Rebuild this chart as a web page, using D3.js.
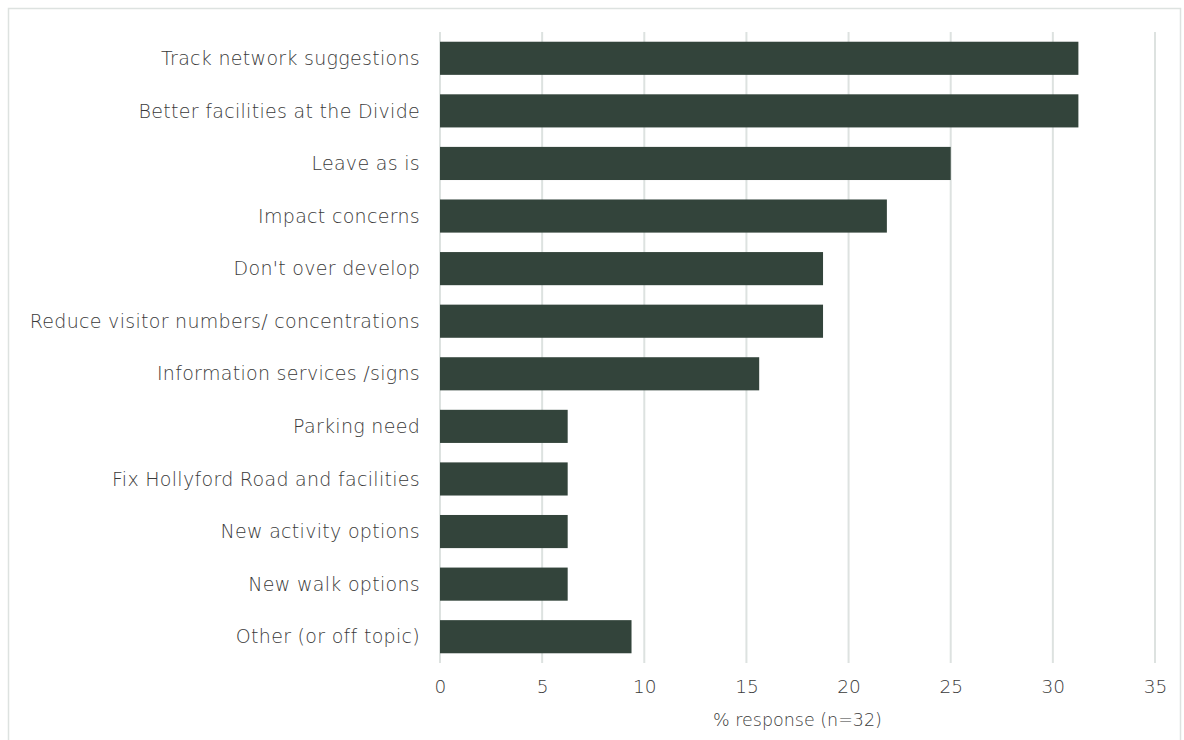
<!DOCTYPE html>
<html>
<head>
<meta charset="utf-8">
<script src="https://cdn.jsdelivr.net/npm/d3@7"></script>
<style>
  html, body { margin: 0; padding: 0; background: #fff; }
  svg { display: block; }
  text { font-family: "DejaVu Sans", "Open Sans", sans-serif; font-weight: 200; fill: #3a3a3a; }
</style>
</head>
<body>
<svg id="chart" width="1184" height="740"></svg>
<script>
// Themes raised by respondents and the share of responses for each (n = 32)
const categories = [
  "Track network suggestions",
  "Better facilities at the Divide",
  "Leave as is",
  "Impact concerns",
  "Don't over develop",
  "Reduce visitor numbers/ concentrations",
  "Information services /signs",
  "Parking need",
  "Fix Hollyford Road and facilities",
  "New activity options",
  "New walk options",
  "Other (or off topic)"
];
const responsePct = [31.25, 31.25, 25, 21.875, 18.75, 18.75, 15.625, 6.25, 6.25, 6.25, 6.25, 9.375];
const xTicks = [0, 5, 10, 15, 20, 25, 30, 35];
const xTitle = "% response (n=32)";

const svg = d3.select("#chart");

// Outer frame of the chart area
svg.append("rect")
  .attr("x", 8.5).attr("y", 8.5)
  .attr("width", 1172).attr("height", 760)
  .attr("fill", "#fff")
  .attr("stroke", "#dde2e0")
  .attr("stroke-width", 1.5);

const x = d3.scaleLinear().domain([0, 35]).range([440, 1155]);
const y = d3.scaleBand().domain(categories).range([32, 663]).paddingInner(0.37).paddingOuter(0.185);

// Vertical gridlines
svg.append("g").selectAll("line")
  .data(xTicks)
  .join("line")
  .attr("x1", d => x(d)).attr("x2", d => x(d))
  .attr("y1", 32).attr("y2", 663)
  .attr("stroke", "#dde2e0")
  .attr("stroke-width", 2);

// Bars
svg.append("g").selectAll("rect")
  .data(categories)
  .join("rect")
  .attr("x", x(0))
  .attr("y", d => y(d))
  .attr("width", (d, i) => x(responsePct[i]) - x(0))
  .attr("height", y.bandwidth())
  .attr("fill", "#33443b");

// Category labels
svg.append("g").selectAll("text")
  .data(categories)
  .join("text")
  .attr("x", 420)
  .attr("y", d => y(d) + y.bandwidth() / 2)
  .attr("dy", "0.35em")
  .attr("text-anchor", "end")
  .style("font-size", "19px")
  .style("letter-spacing", "0.3px")
  .text(d => d);

// X axis tick labels
const xAxis = d3.axisBottom(x).tickValues(xTicks).tickSize(0).tickPadding(0);
const gx = svg.append("g").attr("transform", "translate(0,679)").call(xAxis);
gx.select(".domain").remove();
gx.selectAll("text")
  .attr("dy", "0.75em")
  .style("font-size", "18.5px")
  .style("font-family", "\"DejaVu Sans\", \"Open Sans\", sans-serif")
  .style("font-weight", "200")
  .attr("fill", "#3a3a3a");

// X axis title
svg.append("text")
  .attr("x", x(17.5))
  .attr("y", 720)
  .attr("dy", "0.35em")
  .attr("text-anchor", "middle")
  .style("font-size", "17.5px")
  .text(xTitle);
</script>
</body>
</html>
